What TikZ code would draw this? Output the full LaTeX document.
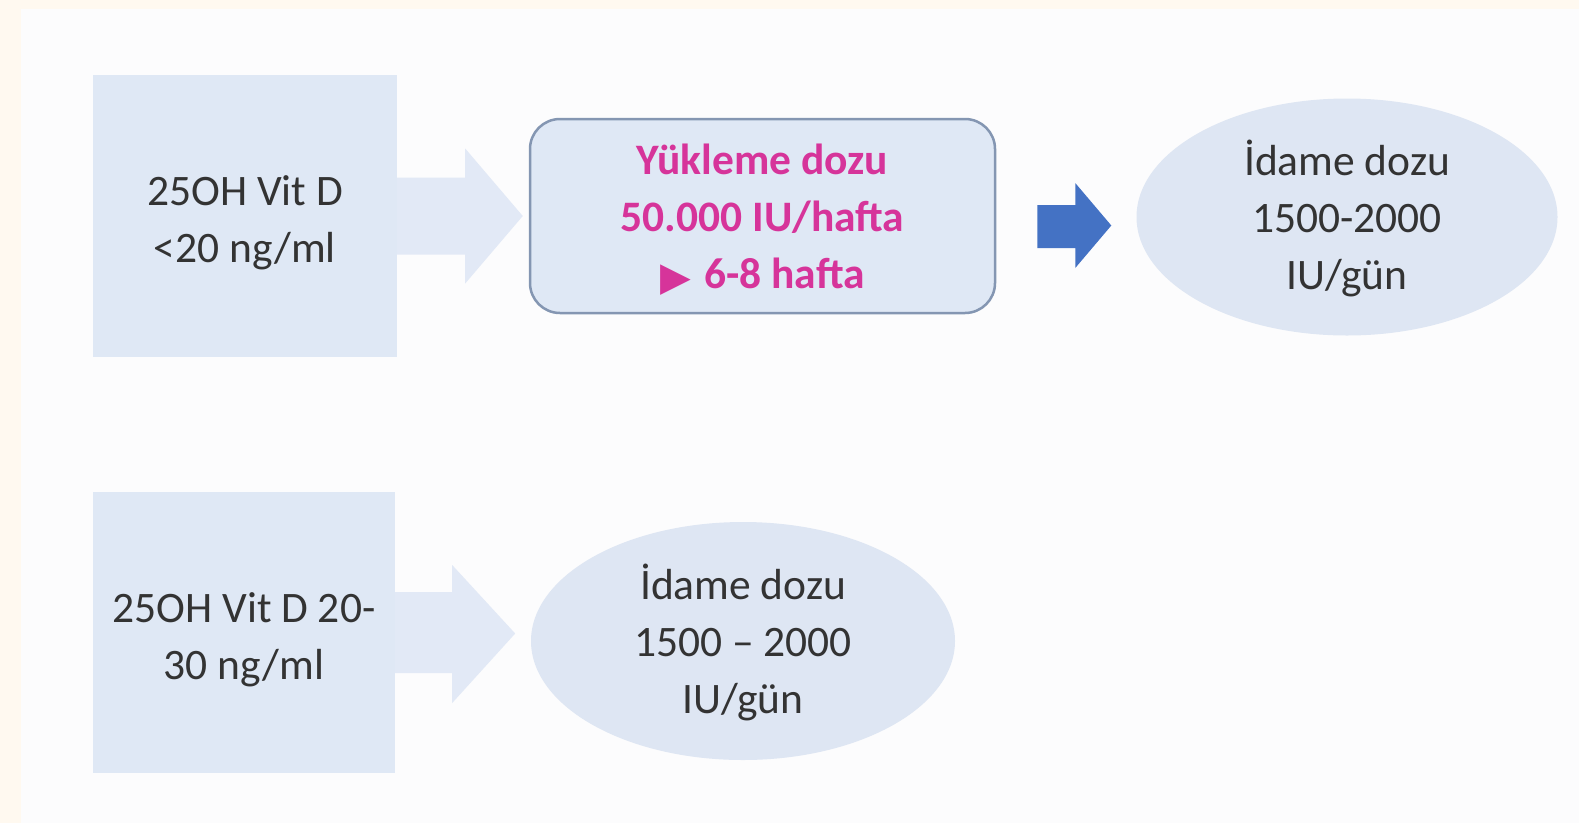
\documentclass[tikz,border=0pt]{standalone}
\usepackage{fontspec}
\setmainfont{Carlito}
\newfontfamily\symfont{DejaVu Sans}
\usetikzlibrary{shapes.geometric,calc}
\definecolor{cream}{RGB}{255,249,240}
\definecolor{pagebg}{RGB}{252,252,253}
\definecolor{boxfill}{RGB}{223,232,245}
\definecolor{ellfill}{RGB}{222,230,243}
\definecolor{arrowfill}{RGB}{226,233,246}
\definecolor{roundborder}{RGB}{132,150,178}
\definecolor{txt}{RGB}{51,51,51}
\definecolor{pinktxt}{RGB}{214,52,154}
\definecolor{bluearrow}{RGB}{68,114,196}
\newcommand\mytop{\rule{0pt}{45pt}}
\newcommand\mytopb{\rule{0pt}{51pt}}
\newcommand\mybot{\rule[-15pt]{0pt}{15pt}}
\newcommand\mytri{\raisebox{-2pt}{\symfont\fontsize{40}{57}\selectfont ▶}\hspace{13pt}}
\tikzset{
  basefont/.style={font=\fontsize{43.5}{57}\selectfont, align=center, text=txt, inner sep=0pt},
  sqbox/.style={basefont, rectangle, fill=boxfill},
  rbox/.style={basefont, rectangle, rounded corners=30pt, fill=boxfill, draw=roundborder, line width=2.5pt, text=pinktxt, font=\fontsize{43.5}{57}\selectfont\bfseries},
  ellbox/.style={basefont, ellipse, fill=ellfill, inner sep=-12pt},
}
\begin{document}
\begin{tikzpicture}[x=1pt,y=-1pt]
\useasboundingbox (0,0) rectangle (1579,823);
\fill[cream] (0,0) rectangle (1579,823);
\fill[pagebg] (21,9) rectangle (1579,823);

\node[sqbox, minimum width=304pt, minimum height=282pt] (b1) at (245,216) {\mytopb 25OH Vit D\\<20 ng/ml\mybot};
\node[rbox, minimum width=465pt, minimum height=194pt] (r1) at (762.5,216) {\mytop Yükleme dozu\\50.000 IU/hafta\\\mytri 6-8 hafta\mybot};
\node[ellbox, minimum width=421pt, minimum height=237pt] (e1) at (1347,217) {\mytop İdame dozu\\1500-2000\\IU/gün\mybot};

\node[sqbox, minimum width=302pt, minimum height=281pt] (b2) at (244,632.5) {\mytopb 25OH Vit D 20-\\30 ng/ml\mybot};
\node[ellbox, minimum width=424pt, minimum height=238pt] (e2) at (743,641) {\mytop İdame dozu\\1500 – 2000\\IU/gün\mybot};

% light block arrow b1 -> r1
\fill[arrowfill] ($(b1.east)+(0,-38.5)$) -- ($(b1.east)+(68,-38.5)$) -- ($(b1.east)+(68,-67.5)$)
  -- ($(r1.west)+(-6,0)$) -- ($(b1.east)+(68,67.5)$) -- ($(b1.east)+(68,38.5)$)
  -- ($(b1.east)+(0,38.5)$) -- cycle;

% light block arrow b2 -> e2
\fill[arrowfill] ($(b2.east)+(0,-40.5)$) -- ($(b2.east)+(57,-40.5)$) -- ($(b2.east)+(57,-67.5)$)
  -- ($(b2.east)+(120,1)$) -- ($(b2.east)+(57,70.5)$) -- ($(b2.east)+(57,40.5)$)
  -- ($(b2.east)+(0,40.5)$) -- cycle;

% blue block arrow r1 -> e1
\fill[bluearrow] ($(r1.east)+(41,-11)$) -- ($(r1.east)+(79,-11)$) -- ($(r1.east)+(79,-33)$)
  -- ($(e1.west)+(-25,8.5)$) -- ($(r1.east)+(79,52)$) -- ($(r1.east)+(79,32)$)
  -- ($(r1.east)+(41,32)$) -- cycle;
\end{tikzpicture}
\end{document}
